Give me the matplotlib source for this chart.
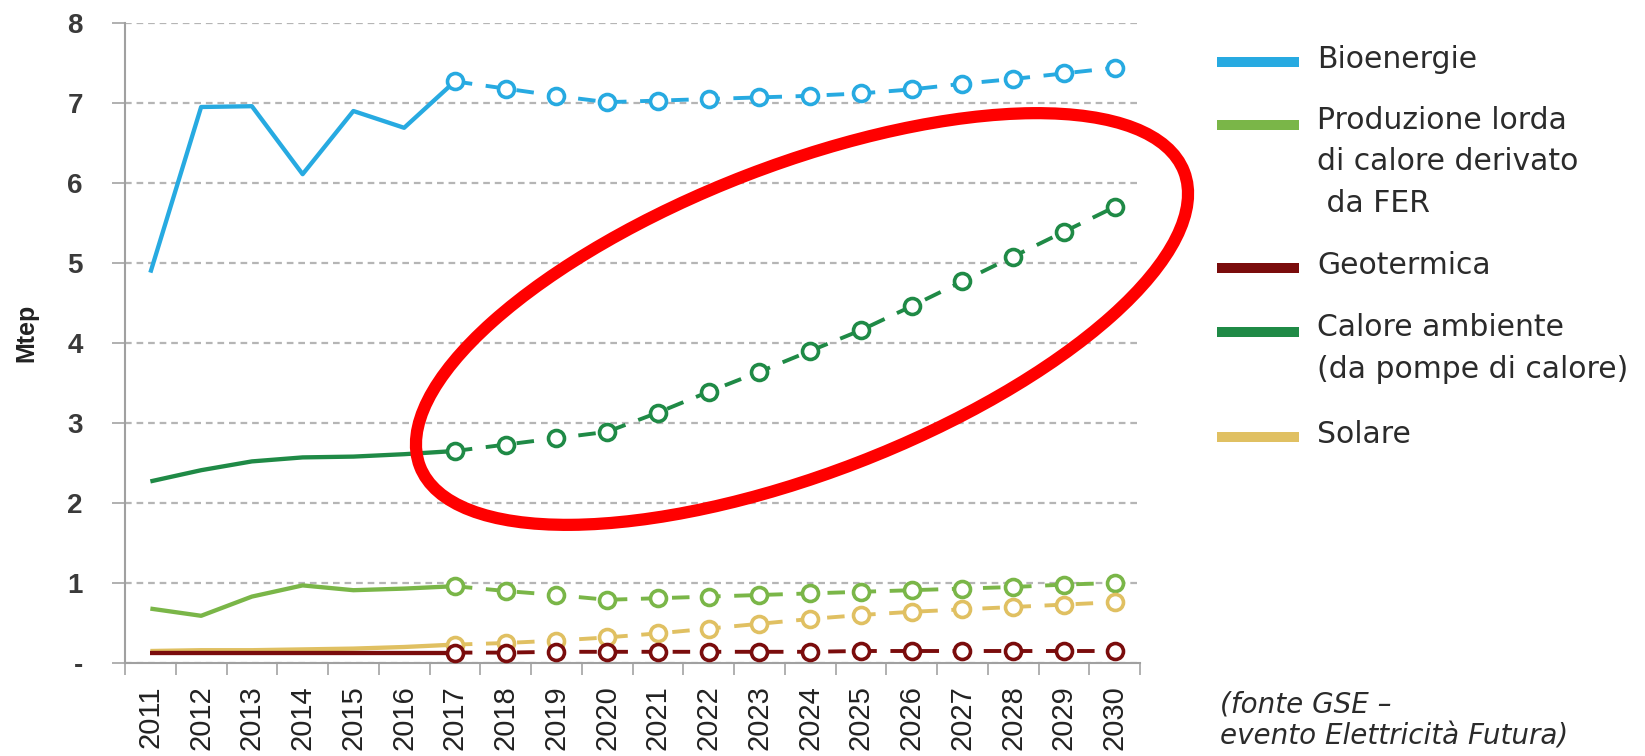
import matplotlib
matplotlib.use("Agg")
import matplotlib.pyplot as plt
from matplotlib.lines import Line2D
from matplotlib.patches import Ellipse

# ---- data (Mtep) ----
years = [2011, 2012, 2013, 2014, 2015, 2016, 2017, 2018, 2019, 2020,
         2021, 2022, 2023, 2024, 2025, 2026, 2027, 2028, 2029, 2030]
last_hist_year = 2017

bioenergie = [4.88, 6.95, 6.96, 6.11, 6.90, 6.69, 7.27, 7.18, 7.09, 7.01,
              7.03, 7.05, 7.07, 7.09, 7.12, 7.17, 7.24, 7.30, 7.37, 7.44]
calore_derivato = [0.68, 0.59, 0.83, 0.97, 0.91, 0.93, 0.96, 0.90, 0.85, 0.79,
                   0.81, 0.83, 0.85, 0.87, 0.89, 0.91, 0.93, 0.95, 0.98, 1.00]
geotermica = [0.13, 0.13, 0.13, 0.13, 0.13, 0.13, 0.13, 0.13, 0.14, 0.14,
              0.14, 0.14, 0.14, 0.14, 0.15, 0.15, 0.15, 0.15, 0.15, 0.15]
calore_ambiente = [2.27, 2.41, 2.52, 2.57, 2.58, 2.61, 2.65, 2.73, 2.81, 2.89,
                   3.13, 3.39, 3.64, 3.90, 4.16, 4.46, 4.77, 5.08, 5.39, 5.70]
solare = [0.15, 0.16, 0.16, 0.17, 0.18, 0.20, 0.23, 0.25, 0.28, 0.32,
          0.37, 0.43, 0.49, 0.55, 0.60, 0.64, 0.67, 0.70, 0.73, 0.76]

series_names = ["Bioenergie",
                "Produzione lorda\ndi calore derivato\n da FER",
                "Geotermica",
                "Calore ambiente\n(da pompe di calore)",
                "Solare"]
series_values = [bioenergie, calore_derivato, geotermica, calore_ambiente, solare]
series_colors = ["#27aae1", "#7ab648", "#7a0c0c", "#1f8a46", "#e0c062"]
# drawing order (later = on top)
draw_order = [3, 0, 1, 4, 2]

y_ticks = [0, 1, 2, 3, 4, 5, 6, 7, 8]
y_tick_labels = ["-", "1", "2", "3", "4", "5", "6", "7", "8"]
y_label = "Mtep"
source_note = ["(fonte GSE \u2013", "evento Elettricit\u00e0 Futura)"]

# ---- figure ----
W, H = 1645, 756
fig = plt.figure(figsize=(W / 100, H / 100), dpi=100)
fig.patch.set_facecolor("white")

ax = fig.add_axes([125 / W, 1 - 663 / H, (1140 - 125) / W, (663 - 23) / H])
ax.set_facecolor("white")

pos = list(range(len(years)))
split = years.index(last_hist_year)

for i in draw_order:
    vals = series_values[i]
    col = series_colors[i]
    ax.plot(pos[:split + 1], vals[:split + 1], color=col, lw=3.1,
            solid_capstyle="butt", zorder=3 + draw_order.index(i))
    ax.plot(pos[split:], vals[split:], color=col, lw=2.8,
            linestyle=(0, (4.5, 3.5)), marker="o", markersize=11.5,
            markerfacecolor="white", markeredgecolor=col, markeredgewidth=2.6,
            zorder=3 + draw_order.index(i))

ax.set_xlim(-0.5, len(years) - 0.5)
ax.set_ylim(0, 8)

# y axis
ax.set_yticks(y_ticks)
ax.set_yticklabels(y_tick_labels)
ax.tick_params(axis="y", length=9.4, width=1.3, color="#aaaaaa", pad=21,
               labelsize=20, labelcolor="#3a3a3a")
for lab in ax.get_yticklabels():
    lab.set_fontfamily("Liberation Sans")
    lab.set_fontweight("bold")
ax.yaxis.grid(True, linestyle=(0, (3, 2.2)), color="#b5b5b5", lw=1.6)
ax.set_axisbelow(True)

# x axis: labels at category centres, ticks at the boundaries
ax.set_xticks(pos)
ax.set_xticklabels([str(y) for y in years], rotation=90)
ax.set_xticks([p - 0.5 for p in pos] + [pos[-1] + 0.5], minor=True)
ax.tick_params(axis="x", which="major", length=0, pad=16, labelsize=21,
               labelcolor="#222222")
ax.tick_params(axis="x", which="minor", length=8.6, width=1.3, color="#aaaaaa")
for lab in ax.get_xticklabels():
    lab.set_fontfamily("Liberation Sans")

for s in ["top", "right"]:
    ax.spines[s].set_visible(False)
for s in ["left", "bottom"]:
    ax.spines[s].set_color("#a0a0a0")
    ax.spines[s].set_linewidth(1.5)

fig.text(26 / W, 1 - 333 / H, y_label, rotation=90, ha="center", va="center",
         fontsize=18, fontweight="bold", family="Liberation Sans", color="#222222")

# ---- legend (drawn by hand for multi-line labels) ----
leg_font = "DejaVu Sans"
leg_x0, leg_x1, leg_tx = 1217, 1299, 1317
handle_y = [62, 125, 268, 332, 437]
first_baseline = [68, 129, 274, 336, 443]
line_step = 41.5
for name, col, hy, by in zip(series_names, series_colors, handle_y, first_baseline):
    fig.add_artist(Line2D([leg_x0 / W, leg_x1 / W], [1 - hy / H, 1 - hy / H],
                          color=col, lw=7.2, solid_capstyle="butt"))
    for k, line in enumerate(name.split("\n")):
        fig.text(leg_tx / W, 1 - (by + k * line_step) / H, line,
                 ha="left", va="baseline", fontsize=21.5, family=leg_font,
                 color="#2b2b2b")

for k, line in enumerate(source_note):
    fig.text(1220 / W, 1 - (712 + k * 33) / H, line, ha="left", va="baseline",
             fontsize=20, family=leg_font, style="italic", color="#2b2b2b")

# ---- red highlight ellipse over the heat-pump projection ----
over = fig.add_axes([0, 0, 1, 1], zorder=10)
over.set_xlim(0, W)
over.set_ylim(0, H)
over.axis("off")
over.patch.set_alpha(0)
over.add_patch(Ellipse((802, H - 319), width=819, height=308, angle=21.1,
                       fill=False, edgecolor="#ff0000", lw=8.8))

fig.savefig("out.png", dpi=100, facecolor="white")
